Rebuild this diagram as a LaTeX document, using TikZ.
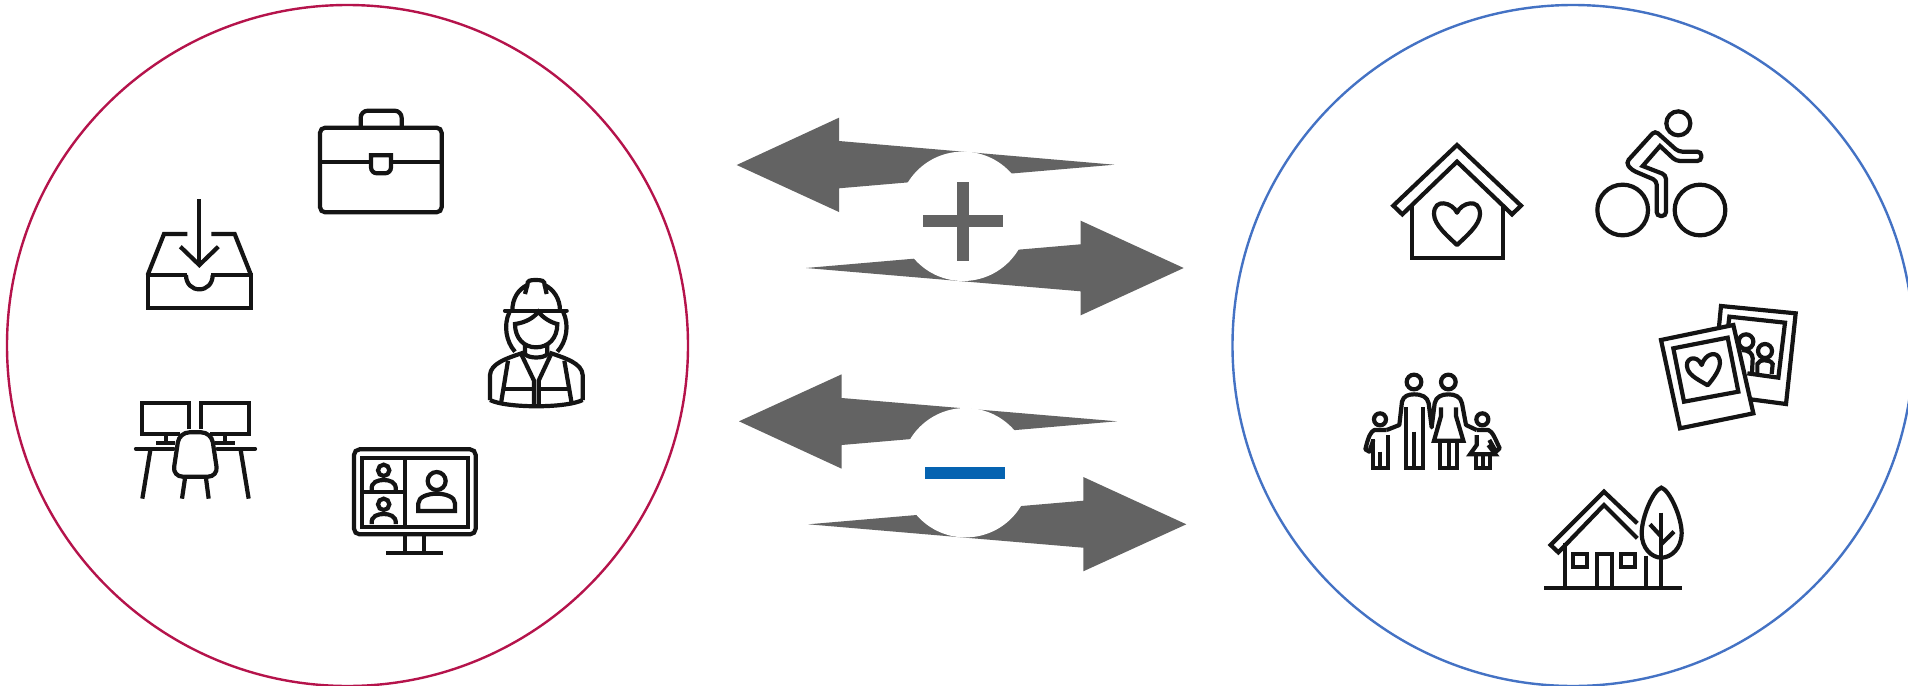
\documentclass[tikz,border=0pt]{standalone}
\definecolor{arrowgray}{HTML}{636363}
\definecolor{minusblue}{HTML}{0563B1}
\definecolor{leftring}{HTML}{B5134B}
\definecolor{rightring}{HTML}{4472C4}
\tikzset{
  icon/.style={draw=black!92,line width=2.1pt,line join=miter,fill=none},
  zoomed/.style={x=0.166667pt,y=-0.166667pt},
  ring/.style={line width=1.2pt,fill=none},
  bigarrow/.style={fill=arrowgray,draw=none},
  hole/.style={fill=white,draw=none},
}
\begin{document}
\begin{tikzpicture}[x=0.5pt,y=-0.5pt]
\clip (0,0) rectangle (1908,686);
\fill[white] (0,0) rectangle (1908,686);
% rings
\draw[ring,draw=leftring] (347.5,345.5) circle[radius=340.5];
\draw[ring,draw=rightring] (1573,345.5) circle[radius=340.5];
% arrows, plus
\fill[bigarrow] (736.7,165) -- (839,117.7) -- (839,141) -- (1114.3,164.7) -- (839,188.3) -- (839,212) -- cycle;
\fill[bigarrow] (1183.7,268) -- (1080.7,220.7) -- (1080.7,244.3) -- (806,268) -- (1080.7,291.3) -- (1080.7,315.3) -- cycle;
\fill[hole] (963,216.3) circle[radius=64.7];
\fill[arrowgray] (923.3,215.3) rectangle (1002.7,227.3);
\fill[arrowgray] (957,181.7) rectangle (969,261);
% arrows, minus
\fill[bigarrow] (739,421.3) -- (841.7,374.3) -- (841.7,398) -- (1117,421.3) -- (841.7,445) -- (841.7,468.7) -- cycle;
\fill[bigarrow] (1186.3,524.3) -- (1083.3,477) -- (1083.3,500.7) -- (808.3,524.3) -- (1083.3,547.7) -- (1083.3,571.3) -- cycle;
\fill[hole] (965.5,472.7) circle[radius=64.7];
\fill[minusblue] (925.3,466.7) rectangle (1005,478.7);
% briefcase and inbox
\begin{scope}[shift={(100,80)},zoomed]
\draw[icon,rounded corners=2.6pt] (660,143) rectangle (1025,397);
\draw[icon,rounded corners=3.6pt] (782,143) -- (782,92) -- (905,92) -- (905,143);
\draw[icon] (660,245) -- (813,245);
\draw[icon] (873,245) -- (1025,245);
\draw[icon] (813,226) -- (873,226) [rounded corners=3pt] -- (873,280) -- (813,280) [sharp corners] -- (813,226) -- cycle;
% inbox
\draw[icon] (143,585) rectangle (453,683);
\fill[white] (262,580) rectangle (334,592);
\draw[icon] (258,585) .. controls (258,612) and (276,628) .. (298,628) .. controls (320,628) and (338,612) .. (338,585);
\draw[icon] (143,585) -- (192,462) -- (262,462);
\draw[icon] (453,585) -- (404,462) -- (334,462);
\draw[icon] (298,358) -- (298,555);
\draw[icon] (241,500) -- (298,555) -- (355,500);
\end{scope}
% desks and video monitor
\begin{scope}[shift={(100,340)},zoomed]
\draw[icon] (268,268) -- (268,190) -- (127,190) -- (127,281) -- (240,281);
\draw[icon] (304,268) -- (304,190) -- (446,190) -- (446,281) -- (330,281);
\draw[icon] (197,281) -- (197,305);
\draw[icon] (375,281) -- (375,305);
\draw[icon] (168,308) -- (226,308);
\draw[icon] (346,308) -- (405,308);
\draw[icon,line cap=round] (108,326) -- (220,326);
\draw[icon,line cap=round] (352,326) -- (465,326);
\draw[icon] (151,330) -- (127,476);
\draw[icon] (422,330) -- (446,476);
\draw[icon,rounded corners=5pt] (238,277) -- (334,277) -- (354,410) -- (218,410) -- cycle;
\draw[icon] (255,415) -- (246,476);
\draw[icon] (318,415) -- (326,476);
% monitor
\draw[icon,rounded corners=2.8pt] (762,328) rectangle (1127,583);
\draw[icon] (785,353) rectangle (1104,560);
\draw[icon] (915,353) -- (915,560);
\draw[icon] (785,456) -- (915,456);
\draw[icon] (851,391) circle[radius=17];
\draw[icon] (851,493) circle[radius=17];
\draw[icon] (815,450) .. controls (812,425) and (835,420) .. (851,420) .. controls (867,420) and (890,425) .. (887,450);
\draw[icon] (815,552) .. controls (812,527) and (835,522) .. (851,522) .. controls (867,522) and (890,527) .. (887,552);
\draw[icon] (1010,423) circle[radius=27];
\draw[icon] (955,513) -- (955,490) .. controls (955,470) and (985,461) .. (1010,461) .. controls (1035,461) and (1065,470) .. (1065,490) -- (1065,513) -- cycle;
\draw[icon] (916,583) -- (916,635);
\draw[icon] (972,583) -- (972,635);
\draw[icon] (858,638) -- (1030,638);
\end{scope}
% worker
\begin{scope}[shift={(470,260)},zoomed]
\draw[icon,line cap=round] (105,152) -- (290,152);
\draw[icon] (127,152) .. controls (127,115) and (145,88) .. (172,75) .. controls (172,62) and (178,60) .. (197,60) .. controls (216,60) and (224,62) .. (224,75) .. controls (250,88) and (270,115) .. (270,152);
\draw[icon] (172,75) -- (165,102);
\draw[icon] (224,75) -- (230,102);
\draw[icon] (118,157) .. controls (100,195) and (108,245) .. (135,275);
\draw[icon] (280,157) .. controls (298,195) and (290,245) .. (262,275);
\draw[icon] (135,192) .. controls (165,188) and (190,175) .. (205,155) .. controls (220,175) and (245,188) .. (262,192) .. controls (262,235) and (235,262) .. (198,262) .. controls (162,262) and (135,235) .. (135,192) -- cycle;
\draw[icon] (165,252) -- (165,282) .. controls (175,296) and (222,296) .. (232,282) -- (232,252);
\draw[icon] (60,420) -- (60,345) .. controls (62,310) and (110,295) .. (160,278);
\draw[icon] (338,420) -- (338,345) .. controls (336,310) and (288,295) .. (238,278);
\draw[icon] (60,420) .. controls (110,445) and (288,445) .. (338,420);
\draw[icon] (155,285) -- (192,362) -- (192,438);
\draw[icon] (242,285) -- (206,362) -- (206,438);
\draw[icon] (114,302) -- (93,430);
\draw[icon] (283,302) -- (305,430);
\draw[icon] (100,388) -- (192,388);
\draw[icon] (206,388) -- (298,388);
\end{scope}
% heart house and cyclist
\begin{scope}[shift={(1360,90)},zoomed]
\draw[icon] (100,347) -- (291,165) -- (483,347) -- (456,373) -- (291,215) -- (127,373) -- cycle;
\draw[icon] (155,345) -- (155,503) -- (430,503) -- (430,345);
\draw[icon,line join=round] (291,368) .. controls (278,338) and (222,322) .. (222,372) .. controls (222,405) and (265,440) .. (291,465) .. controls (317,440) and (360,405) .. (360,372) .. controls (360,322) and (304,338) .. (291,368) -- cycle;
\draw[icon] (788,360) circle[radius=76];
\draw[icon] (1020,360) circle[radius=76];
\draw[icon] (955,100) circle[radius=36];
\draw[icon,rounded corners=2pt] (885,122) -- (955,185) -- (1024,185) -- (1024,213) -- (948,213) [sharp corners] -- (900,168) -- (848,228) [rounded corners=2pt] -- (918,255) -- (918,378) -- (890,378) -- (890,272) -- (815,240) -- (798,218) -- cycle;
\end{scope}
% photos, family, house and tree
\begin{scope}[shift={(1340,290)},zoomed]
% back photo
\draw[icon] (1137,110) -- (1143,48) -- (1367,70) -- (1338,342) -- (1232,328);
\draw[icon] (1165,105) -- (1168,80) -- (1335,98) -- (1315,263) -- (1222,250);
\draw[icon] (1218,155) circle[radius=22];
\draw[icon] (1275,183) circle[radius=21];
\draw[icon] (1252,250) -- (1252,222) .. controls (1256,208) and (1290,206) .. (1298,222) -- (1295,252);
\draw[icon] (1205,180) .. controls (1225,180) and (1238,190) .. (1238,205) -- (1236,248);
% front photo
\draw[icon] (963,150) -- (1180,105) -- (1240,370) -- (1020,415) -- cycle;
\draw[icon] (1000,175) -- (1163,143) -- (1195,305) -- (1032,335) -- cycle;
\draw[icon,line join=round] (1085,225) .. controls (1070,190) and (1030,205) .. (1043,238) .. controls (1050,258) and (1080,272) .. (1103,286) .. controls (1118,268) and (1145,235) .. (1139,210) .. controls (1133,180) and (1095,190) .. (1085,225) -- cycle;
% family
\draw[icon] (222,276) circle[radius=22];
\draw[icon] (325,276) circle[radius=22];
\draw[icon] (120,388) circle[radius=18];
\draw[icon] (427,388) circle[radius=18];
\draw[icon,line join=round] (140,420) -- (178,405) -- (186,335) .. controls (190,318) and (205,313) .. (222,313) .. controls (245,313) and (262,320) .. (266,340) -- (275,412) -- (284,340) .. controls (288,320) and (305,313) .. (325,313) .. controls (345,313) and (362,320) .. (366,340) -- (378,405) -- (410,420);
\draw[icon] (198,352) -- (198,535) -- (250,535) -- (250,352);
\draw[icon] (222,425) -- (222,535);
\draw[icon] (303,352) -- (303,378) -- (282,452) -- (370,452) -- (348,378) -- (348,352);
\draw[icon] (300,452) -- (300,535) -- (352,535) -- (352,452);
\draw[icon] (326,452) -- (326,535);
\draw[icon,line join=round] (140,420) -- (103,420) .. controls (92,425) and (85,440) .. (76,478) -- (88,485) -- (100,450);
\draw[icon] (99,448) -- (99,535) -- (143,535) -- (143,435);
\draw[icon] (120,485) -- (120,535);
\draw[icon,line join=round] (410,420) -- (445,420) .. controls (458,425) and (465,445) .. (479,475) -- (468,485) -- (448,450);
\draw[icon] (410,435) -- (410,465) -- (390,493) -- (466,493) -- (445,465);
\draw[icon] (407,493) -- (407,535) -- (450,535) -- (450,493);
\draw[icon] (428,493) -- (428,535);
% house
\draw[icon] (892,700) -- (792,605) -- (632,765) -- (655,787) -- (792,645) -- (892,745);
\draw[icon] (675,760) -- (675,893);
\draw[icon] (770,893) -- (770,792) -- (817,792) -- (817,893);
\draw[icon] (700,792) rectangle (742,830);
\draw[icon] (842,792) rectangle (884,830);
\draw[icon] (917,797) -- (917,893);
\draw[icon] (612,895) -- (1027,895);
% tree
\draw[icon] (964,593) .. controls (940,600) and (905,680) .. (905,730) .. controls (905,775) and (935,803) .. (964,803) .. controls (993,803) and (1025,775) .. (1025,730) .. controls (1025,680) and (988,600) .. (964,593) -- cycle;
\draw[icon] (964,668) -- (964,893);
\draw[icon] (930,703) -- (964,740);
\draw[icon] (1002,725) -- (964,762);
\end{scope}
\end{tikzpicture}
\end{document}
